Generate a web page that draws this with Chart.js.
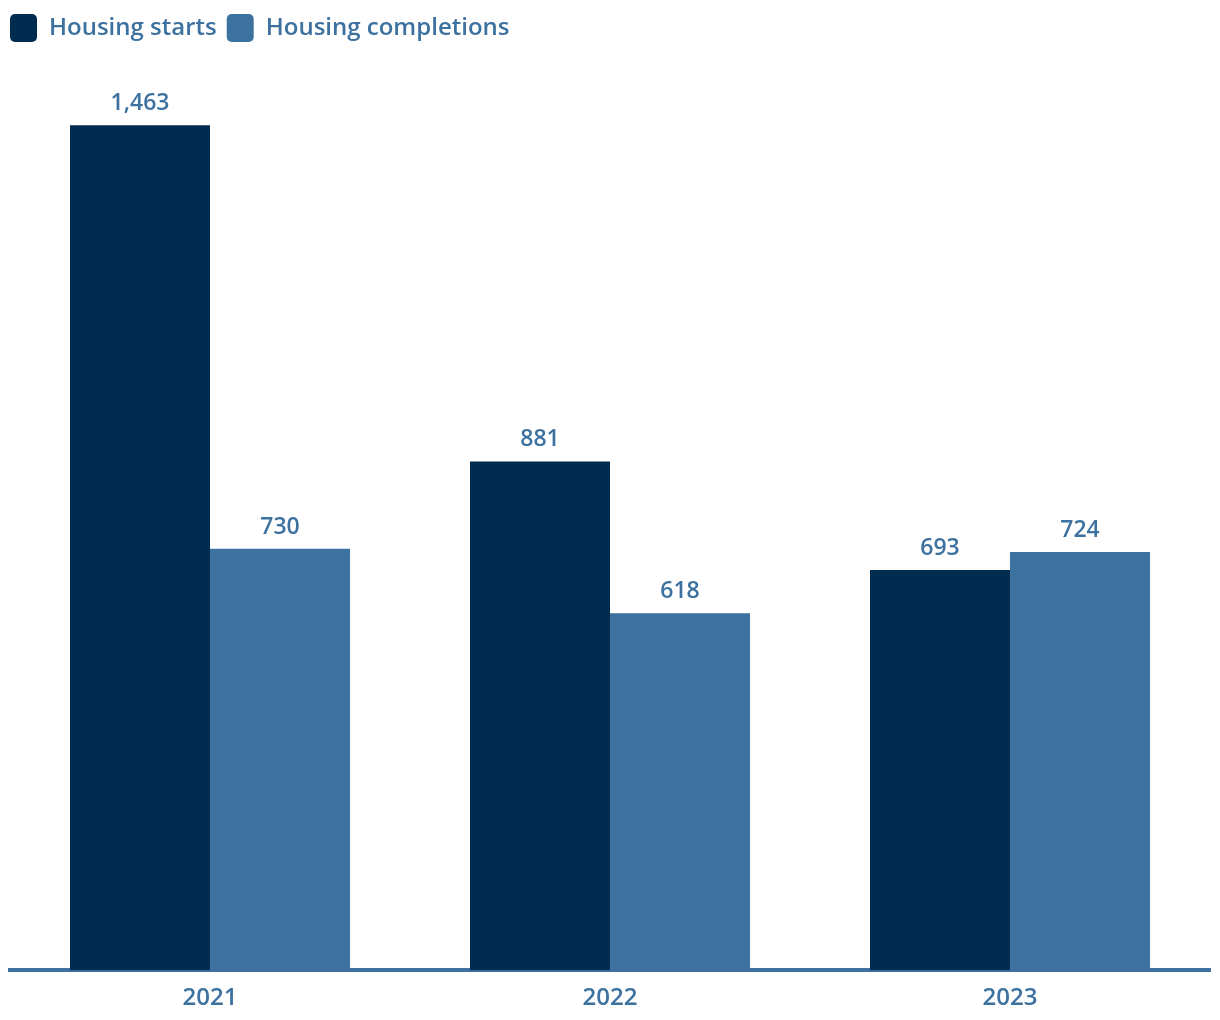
<!DOCTYPE html>
<html>
<head>
<meta charset="utf-8">
<script src="https://cdn.jsdelivr.net/npm/chart.js@4"></script>
<style>
  html, body { margin: 0; padding: 0; background: #fff; }
  #wrap { width: 1220px; height: 1020px; }
</style>
</head>
<body>
<div id="wrap"><canvas id="myChart" width="1220" height="1020"></canvas></div>
<script>
const years = ['2021', '2022', '2023'];
const housingStarts = [1463, 881, 693];
const housingCompletions = [730, 618, 724];

const navy = '#022b50';
const blue = '#3d71a0';

// draws the value above each bar
const valueLabels = {
  id: 'valueLabels',
  afterDatasetsDraw(chart) {
    const ctx = chart.ctx;
    ctx.save();
    ctx.font = '600 23px "Open Sans"';
    ctx.fillStyle = blue;
    ctx.textAlign = 'center';
    ctx.textBaseline = 'bottom';
    chart.data.datasets.forEach((ds, i) => {
      chart.getDatasetMeta(i).data.forEach((bar, j) => {
        ctx.fillText(ds.data[j].toLocaleString('en-US'), bar.x, bar.y - 10);
      });
    });
    ctx.restore();
  }
};

function generateChart() {
  var ctx = document.getElementById('myChart').getContext('2d');
  window.myChart = new Chart(ctx, {
    type: 'bar',
    data: {
      labels: years,
      datasets: [
        { label: 'Housing starts', data: housingStarts, backgroundColor: navy },
        { label: 'Housing completions', data: housingCompletions, backgroundColor: blue }
      ]
    },
    options: {
      responsive: false,
      animation: false,
      layout: { padding: { left: 0, right: 10, top: 4, bottom: 1 } },
      datasets: { bar: { categoryPercentage: 0.7, barPercentage: 1.0 } },
      scales: {
        x: {
          grid: { display: false },
          border: { display: true, color: blue, width: 4 },
          ticks: { color: blue, font: { family: 'Open Sans', size: 24, weight: '600' }, padding: 6 }
        },
        y: {
          display: true,
          min: 0,
          max: 1590,
          grid: { display: false },
          border: { display: false },
          ticks: { display: false },
          afterFit: s => { s.width = 10; }
        }
      },
      plugins: {
        legend: {
          position: 'top',
          align: 'start',
          labels: {
            boxWidth: 27,
            boxHeight: 28,
            useBorderRadius: true,
            borderRadius: 5,
            color: blue,
            font: { family: 'Open Sans', size: 24, weight: '600' },
            padding: 10
          }
        },
        tooltip: { enabled: false }
      }
    },
    plugins: [valueLabels]
  });
}

generateChart();
</script>
</body>
</html>
